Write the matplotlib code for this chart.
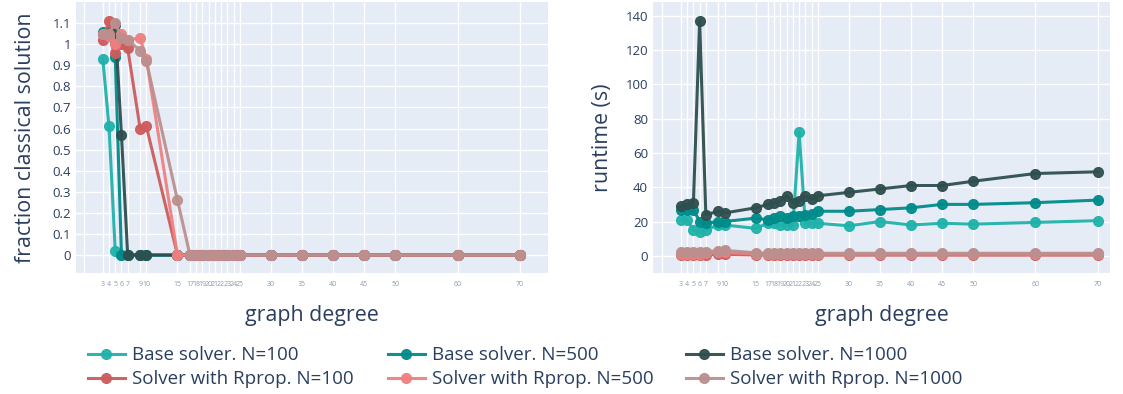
import matplotlib
matplotlib.use("Agg")
import matplotlib.pyplot as plt
import numpy as np

degrees = [3, 4, 5, 6, 7, 9, 10, 15, 17, 18, 19, 20, 21, 22, 23, 24, 25, 30, 35, 40, 45, 50, 60, 70]

# fraction classical solution
frac_base_100 = [0.93, 0.61, 0.02, 0, 0, 0, 0, 0, 0, 0, 0, 0, 0, 0, 0, 0, 0, 0, 0, 0, 0, 0, 0, 0]
frac_base_500 = [1.06, 1.05, 0.94, 0, 0, 0, 0, 0, 0, 0, 0, 0, 0, 0, 0, 0, 0, 0, 0, 0, 0, 0, 0, 0]
frac_base_1000 = [1.05, 1.06, 1.09, 0.57, 0, 0, 0, 0, 0, 0, 0, 0, 0, 0, 0, 0, 0, 0, 0, 0, 0, 0, 0, 0]
frac_rprop_100 = [1.02, 1.11, 0.96, 1.0, 0.98, 0.6, 0.61, 0, 0, 0, 0, 0, 0, 0, 0, 0, 0, 0, 0, 0, 0, 0, 0, 0]
frac_rprop_500 = [1.05, 1.04, 1.0, 1.05, 1.02, 1.03, 0.93, 0, 0, 0, 0, 0, 0, 0, 0, 0, 0, 0, 0, 0, 0, 0, 0, 0]
frac_rprop_1000 = [1.05, 1.05, 1.1, 1.03, 1.02, 0.97, 0.92, 0.26, 0, 0, 0, 0, 0, 0, 0, 0, 0, 0, 0, 0, 0, 0, 0, 0]

# runtime (s)
rt_base_100 = [21, 21, 15, 14, 15, 18, 18, 16, 19, 19, 18, 18, 18, 72, 19, 19, 19, 17.5, 20, 18, 19, 18.5, 19.5, 20.5]
rt_base_500 = [27, 27, 27, 20, 19, 20, 20, 22, 21, 22, 23, 22, 23, 23.5, 24, 24.5, 26, 26, 27, 28, 30, 30, 31, 32.5]
rt_base_1000 = [29, 30, 31, 137, 24, 26, 25, 28, 30, 31, 32, 35, 31, 32, 35, 33, 35, 37, 39, 41, 41, 43.5, 48, 49]
rt_rprop_100 = [0.5, 0.5, 0.5, 0.5, 0.6, 0.8, 0.8, 0.5, 0.4, 0.4, 0.4, 0.4, 0.4, 0.4, 0.4, 0.4, 0.4, 0.4, 0.4, 0.4, 0.4, 0.4, 0.4, 0.4]
rt_rprop_500 = [1.2, 1.2, 1.2, 1.3, 1.5, 2.0, 2.0, 1.2, 1.0, 1.0, 1.0, 1.0, 1.0, 1.0, 1.0, 1.0, 1.0, 1.0, 1.0, 1.0, 1.0, 1.0, 1.0, 1.0]
rt_rprop_1000 = [2.0, 2.0, 2.0, 2.2, 2.5, 3.0, 3.2, 1.8, 1.5, 1.5, 1.5, 1.5, 1.5, 1.5, 1.5, 1.5, 1.5, 1.5, 1.5, 1.5, 1.5, 1.5, 1.5, 1.5]

labels = ["Base solver. N=100", "Base solver. N=500", "Base solver. N=1000",
          "Solver with Rprop. N=100", "Solver with Rprop. N=500", "Solver with Rprop. N=1000"]
colors = ["#20b2aa", "#008b8b", "#2f4f4f", "#cd5c5c", "#f08080", "#bc8f8f"]

frac_series = [frac_base_100, frac_base_500, frac_base_1000, frac_rprop_100, frac_rprop_500, frac_rprop_1000]
rt_series = [rt_base_100, rt_base_500, rt_base_1000, rt_rprop_100, rt_rprop_500, rt_rprop_1000]

plt.rcParams['font.family'] = ['Open Sans', 'DejaVu Sans']
TXT = "#2a3f5f"
BG = "#e5ecf6"

W, H = 1123, 394
fig = plt.figure(figsize=(W / 100, H / 100), dpi=100)

def px_axes(x0, y0, x1, y1):
    return fig.add_axes([x0 / W, 1 - y1 / H, (x1 - x0) / W, (y1 - y0) / H])

ax1 = px_axes(76, 2, 548, 273)
ax2 = px_axes(653, 2, 1110, 273)

def style(ax):
    ax.set_facecolor(BG)
    for s in ax.spines.values():
        s.set_visible(False)
    ax.set_axisbelow(True)
    ax.grid(True, color="white", linewidth=1.0)
    ax.tick_params(length=0, colors=TXT)
    ax.set_xticks([0] + degrees)
    ax.set_xticklabels([""] + [str(d) for d in degrees], fontsize=5, color="#8a9ab0")
    ax.tick_params(axis="x", pad=6)
    ax.set_xlabel("graph degree", fontsize=15.4, color=TXT, labelpad=12)

handles = []
for ys, c, lab in zip(frac_series, colors, labels):
    h, = ax1.plot(degrees, ys, "-o", color=c, lw=2.2, ms=7, alpha=0.95, label=lab)
    handles.append(h)
for ys, c in zip(rt_series, colors):
    ax2.plot(degrees, ys, "-o", color=c, lw=2.2, ms=7, alpha=0.95)

style(ax1)
style(ax2)

ax1.set_xlim(-1.3, 74.5)
ax1.set_ylim(-0.085, 1.2)
yt = [round(0.1 * i, 1) for i in range(12)]
ax1.set_yticks(yt)
ax1.set_yticklabels(["0" if v == 0 else ("1" if v == 1 else f"{v:g}") for v in yt], fontsize=9.5)
ax1.set_ylabel("fraction classical solution", fontsize=15.4, color=TXT, labelpad=12)

ax2.set_xlim(-1.5, 72.0)
ax2.set_ylim(-10, 148)
ax2.set_yticks(list(range(0, 141, 20)))
ax2.set_yticklabels([str(v) for v in range(0, 141, 20)], fontsize=9.5)
ax2.set_ylabel("runtime (s)", fontsize=15.4, color=TXT, labelpad=9)

col_x = [80, 380, 678]
for i in range(3):
    leg = fig.legend([handles[i], handles[i + 3]], [labels[i], labels[i + 3]],
                     loc="upper left", bbox_to_anchor=(col_x[i] / W, 1 - 339 / H),
                     frameon=False, fontsize=13.5, handlelength=2.0, labelspacing=0.3,
                     handletextpad=0.35, borderaxespad=0)
    for t in leg.get_texts():
        t.set_color(TXT)

fig.savefig("out.png", dpi=100)
